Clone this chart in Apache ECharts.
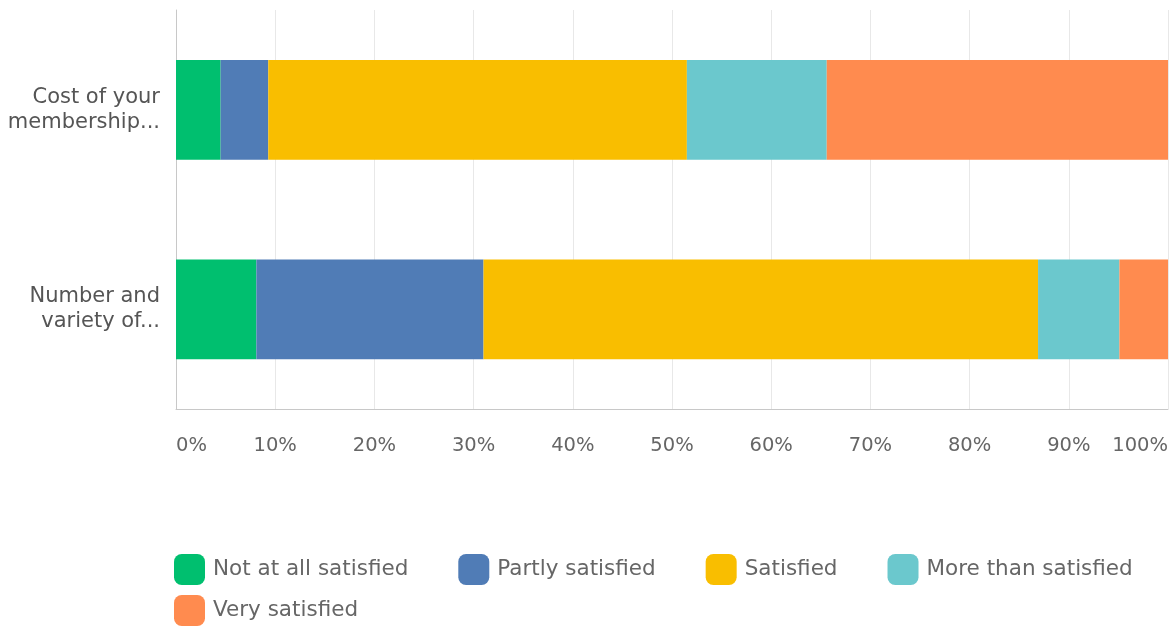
<!DOCTYPE html>
<html>
<head>
<meta charset="utf-8">
<title>Satisfaction survey</title>
<script src="https://cdn.jsdelivr.net/npm/echarts@6/dist/echarts.min.js"></script>
<style>
  html, body { margin: 0; padding: 0; background: #ffffff; }
  #chart { width: 1173px; height: 628px; }
</style>
</head>
<body>
<div id="chart"></div>
<script>
// Questions (top to bottom)
var categories = ['Cost of your\nmembership...', 'Number and\nvariety of...'];

// Share of answers per question, in percent
var notAtAllSatisfied  = [4.5, 8.1];
var partlySatisfied    = [4.8, 22.9];
var satisfied          = [42.2, 55.9];
var moreThanSatisfied  = [14.1, 8.2];
var verySatisfied      = [34.4, 4.9];

var seriesNames = ['Not at all satisfied', 'Partly satisfied', 'Satisfied', 'More than satisfied', 'Very satisfied'];
var seriesValues = [notAtAllSatisfied, partlySatisfied, satisfied, moreThanSatisfied, verySatisfied];
var colors = ['#00BF6F', '#507CB6', '#F9BE00', '#6BC8CD', '#FF8B4F'];

// Tick labels along the percentage axis
var tickLabels = ['0%', '10%', '20%', '30%', '40%', '50%', '60%', '70%', '80%', '90%', '100%'];

var fontFamily = '"DejaVu Sans", "Noto Sans", sans-serif';

var chart = echarts.init(document.getElementById('chart'), null, { renderer: 'canvas' });

var legendText = { color: '#666666', fontSize: 21.5, fontFamily: fontFamily, padding: [0, 0, 0, 3] };

chart.setOption({
  animation: false,
  color: colors,
  grid: { left: 176, right: 5, top: 10, bottom: 219, containLabel: false },
  xAxis: {
    type: 'value',
    min: 0,
    max: 100,
    interval: 10,
    axisLine: { show: true, lineStyle: { color: '#c8c8c8', width: 1 } },
    axisTick: { show: false },
    splitLine: { show: true, lineStyle: { color: '#e8e8e8', width: 1 } },
    axisLabel: {
      margin: 27,
      color: '#666666',
      fontSize: 19.5,
      fontFamily: fontFamily,
      alignMinLabel: 'left',
      alignMaxLabel: 'right',
      formatter: function (v) { return tickLabels[Math.round(v / 10)]; }
    }
  },
  yAxis: {
    type: 'category',
    inverse: true,
    data: categories,
    axisLine: { show: true, lineStyle: { color: '#c8c8c8', width: 1 } },
    axisTick: { show: false },
    axisLabel: {
      margin: 16,
      color: '#555555',
      fontSize: 21,
      lineHeight: 25,
      fontFamily: fontFamily,
      align: 'right'
    }
  },
  legend: [
    {
      data: seriesNames.slice(0, 4),
      left: 169,
      top: 549,
      orient: 'horizontal',
      itemWidth: 31,
      itemHeight: 31,
      itemGap: 50,
      icon: 'roundRect',
      textStyle: legendText,
      selectedMode: false
    },
    {
      data: seriesNames.slice(4),
      left: 169,
      top: 590,
      orient: 'horizontal',
      itemWidth: 31,
      itemHeight: 31,
      icon: 'roundRect',
      textStyle: legendText,
      selectedMode: false
    }
  ],
  series: seriesNames.map(function (name, i) {
    return {
      name: name,
      type: 'bar',
      stack: 'total',
      barWidth: '50%',
      data: seriesValues[i],
      itemStyle: { color: colors[i] },
      emphasis: { disabled: true }
    };
  })
});
</script>
</body>
</html>
